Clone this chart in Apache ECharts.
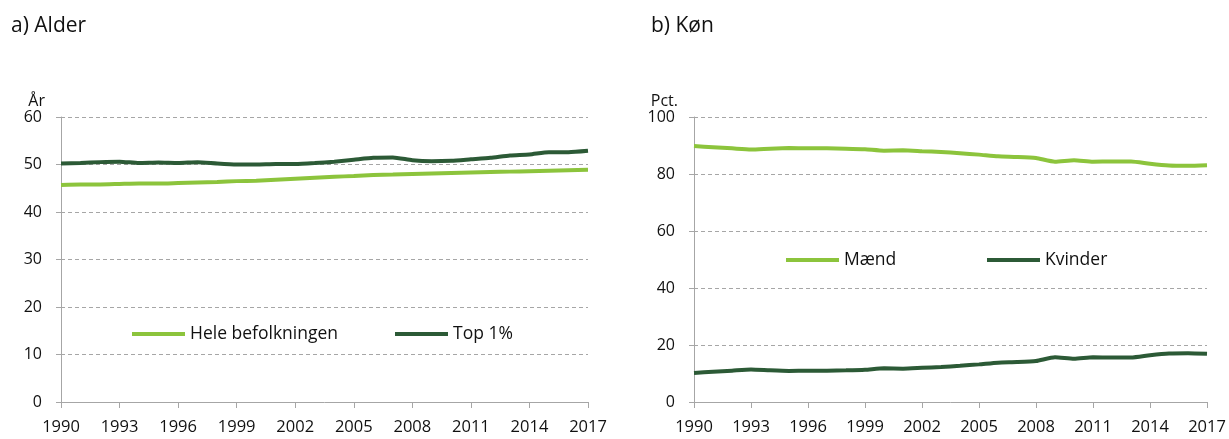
<!DOCTYPE html>
<html>
<head>
<meta charset="UTF-8">
<title>Alder og køn</title>
<script src="https://cdn.jsdelivr.net/npm/echarts@6/dist/echarts.min.js"></script>
<style>
  html, body { margin: 0; padding: 0; background: #fff; }
  #main { width: 1229px; height: 439px; }
</style>
</head>
<body>
<div id="main"></div>
<script>
var years = ['1990','1991','1992','1993','1994','1995','1996','1997','1998','1999',
  '2000','2001','2002','2003','2004','2005','2006','2007','2008','2009',
  '2010','2011','2012','2013','2014','2015','2016','2017'];

// a) Alder (år)
var heleBefolkningen = [45.7, 45.8, 45.8, 45.9, 46.0, 46.0, 46.1, 46.2, 46.3, 46.5,
  46.6, 46.8, 47.0, 47.2, 47.4, 47.6, 47.8, 47.9, 48.0, 48.1,
  48.2, 48.3, 48.4, 48.5, 48.6, 48.7, 48.8, 48.9];
var top1 = [50.2, 50.3, 50.5, 50.6, 50.3, 50.4, 50.3, 50.5, 50.2, 50.0,
  50.0, 50.1, 50.1, 50.3, 50.6, 51.0, 51.4, 51.5, 50.9, 50.7,
  50.8, 51.1, 51.4, 51.9, 52.1, 52.6, 52.6, 52.9];

// b) Køn (pct.)
var maend = [89.8, 89.4, 89.0, 88.6, 88.9, 89.1, 89.0, 89.0, 88.9, 88.7,
  88.2, 88.3, 88.0, 87.7, 87.3, 86.8, 86.2, 86.0, 85.6, 84.3,
  84.8, 84.3, 84.4, 84.4, 83.6, 83.0, 82.9, 83.1];
var kvinder = [10.2, 10.6, 11.0, 11.4, 11.1, 10.9, 11.0, 11.0, 11.1, 11.3,
  11.8, 11.7, 12.0, 12.3, 12.7, 13.2, 13.8, 14.0, 14.4, 15.7,
  15.2, 15.7, 15.6, 15.6, 16.4, 17.0, 17.1, 16.9];

var lightGreen = '#8cc43c';
var darkGreen = '#2c5a36';
var font = 'Open Sans';
var textColor = '#111';

function xAxisFor(gridIndex) {
  return {
    type: 'category', gridIndex: gridIndex, data: years, boundaryGap: false,
    axisLine: { lineStyle: { color: '#a6a6a6', width: 1 } },
    axisTick: { interval: 2, length: 6, lineStyle: { color: '#a6a6a6' } },
    axisLabel: { interval: 2, color: textColor, fontSize: 16.5, fontFamily: font, margin: 17 }
  };
}
function yAxisFor(gridIndex, max, interval, name) {
  return {
    type: 'value', gridIndex: gridIndex, min: 0, max: max, interval: interval,
    name: name, nameLocation: 'end', nameGap: 7,
    nameTextStyle: { color: textColor, fontSize: 16, fontFamily: font, align: 'right', verticalAlign: 'bottom', padding: [0, 16, 0, 0] },
    axisLine: { show: true, lineStyle: { color: '#a6a6a6', width: 1 } },
    axisTick: { show: true, length: 5, lineStyle: { color: '#a6a6a6' } },
    axisLabel: { color: textColor, fontSize: 16, fontFamily: font, margin: 19 },
    splitLine: { lineStyle: { type: [4, 3], color: '#a6a6a6', width: 1 } }
  };
}
function lineSeries(name, data, color, idx) {
  return {
    name: name, type: 'line', data: data, xAxisIndex: idx, yAxisIndex: idx,
    symbol: 'none', smooth: 0.2,
    lineStyle: { color: color, width: 4 }, itemStyle: { color: color }
  };
}
function legendFor(name, left, top) {
  return {
    data: [name], left: left, top: top, itemWidth: 53, itemHeight: 4,
    icon: 'rect', itemGap: 0, padding: 0,
    textStyle: { color: textColor, fontSize: 17.5, fontFamily: font, padding: [0, 0, 0, 0] }
  };
}

var myChart = echarts.init(document.getElementById('main'));
var option = {
  animation: false,
  title: [
    { text: 'a) Alder', left: 6, top: 11, textStyle: { fontSize: 21, fontWeight: 'normal', color: textColor, fontFamily: font } },
    { text: 'b) Køn', left: 646, top: 11, textStyle: { fontSize: 21, fontWeight: 'normal', color: textColor, fontFamily: font } }
  ],
  grid: [
    { left: 61, right: 641, top: 117, bottom: 37 },
    { left: 694, right: 22, top: 117, bottom: 37 }
  ],
  legend: [
    legendFor('Hele befolkningen', 132, 325),
    legendFor('Top 1%', 395, 325),
    legendFor('Mænd', 786, 251),
    legendFor('Kvinder', 987, 251)
  ],
  xAxis: [xAxisFor(0), xAxisFor(1)],
  yAxis: [yAxisFor(0, 60, 10, 'År'), yAxisFor(1, 100, 20, 'Pct.')],
  series: [
    lineSeries('Hele befolkningen', heleBefolkningen, lightGreen, 0),
    lineSeries('Top 1%', top1, darkGreen, 0),
    lineSeries('Mænd', maend, lightGreen, 1),
    lineSeries('Kvinder', kvinder, darkGreen, 1)
  ]
};
myChart.setOption(option);
</script>
</body>
</html>
